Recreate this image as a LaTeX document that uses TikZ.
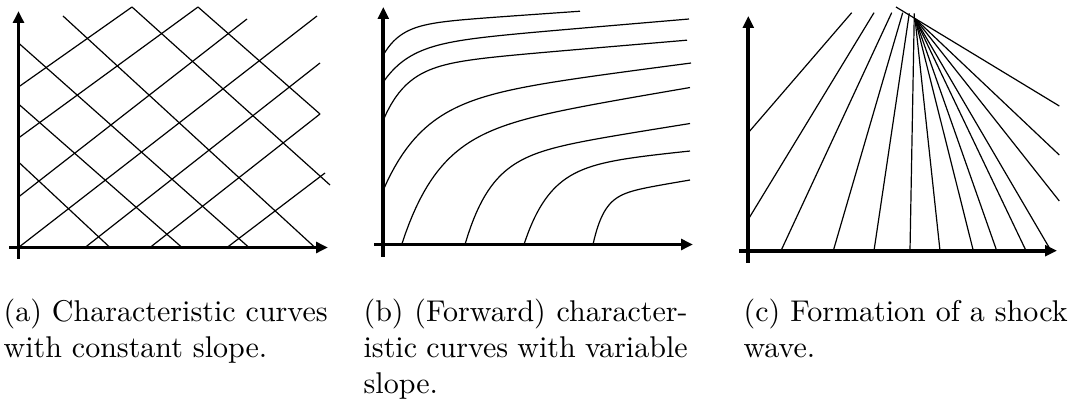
\documentclass[tikz,border=0pt]{standalone}
\usepackage{tikz}
\usetikzlibrary{arrows.meta}

\begin{document}
\begin{tikzpicture}[x=0.3333pt, y=-0.3333pt,
  axis/.style={line width=1.3pt, -{Triangle[length=4pt,width=3.6pt]}},
  charline/.style={line width=0.4pt},
  subcap/.style={anchor=north west, inner sep=0pt, text width=108pt, align=justify}
]
\useasboundingbox (0,0) rectangle (1076,405);

% (a) constant slope
\draw[axis] (18.5,259) -- (18.5,11);
\draw[axis] (9,247.5) -- (328,247.5);
\foreach \xa/\ya/\xb/\yb in {18.5/87/132/7, 18.5/138/198/7, 18.5/197/247/19, 18.5/247.5/317/16,
  85/247.5/320/63, 150/247.5/320/114, 227/247.5/325/173}
  \draw[charline] (\xa,\ya) -- (\xb,\yb);
\foreach \xa/\ya/\xb/\yb in {63/16/315/247.5, 18.5/43/249/247.5, 132/7/330/185,
  198/7/320/114, 18.5/104/182/247.5, 18.5/162/110/247.5}
  \draw[charline] (\xa,\ya) -- (\xb,\yb);

% (b) variable slope
\draw[axis] (383.3,257) -- (383.3,7);
\draw[axis] (374,244.5) -- (693,244.5);
\foreach \sx/\sy/\ka/\ks/\km/\len in {383.3/55/30/18/0.07/196.7, 383.3/82/37/27/0.085/305.7,
  383.3/120/54/24/0.085/303.7, 383.3/190/87/40/0.13/307.7, 401.7/244.5/108/37/0.17/288.3,
  465/244.5/85/26/0.16/225, 524/244.5/77/26/0.1/166, 593/244.5/48/11/0.17/97}
  \draw[charline] plot[domain=0:\len, samples=80, variable=\t]
    ({\sx+\t},{\sy-\ka*(1-exp(-\t/\ks))-\km*\t});

% (c) shock
\coordinate (F) at (915,18.5);
\draw[axis] (748.3,263) -- (748.3,16);
\draw[axis] (739,250.7) -- (1057,250.7);
\foreach \xa/\ya/\xb/\yb in {748.3/132.7/851.7/12.7, 748.3/219.3/874/12.7, 781/250.7/891.7/12.7,
  833.3/250.7/902.7/12.7, 874/250.7/909.3/13.3, 910/250.7/914.3/13.3}
  \draw[charline] (\xa,\ya) -- (\xb,\yb);
\foreach \xa in {940,973.3,996.7,1026,1051}
  \draw[charline] (\xa,250.7) -- (F);
\draw[charline] (1059.3,106) -- (896,7);
\foreach \ya in {155,201}
  \draw[charline] (1059.3,\ya) -- (F);

\node[subcap] (capa) at (3,298) {(a) Characteristic curves with constant slope.};
\node[subcap] (capb) at (363,298) {(b) (Forward) character\-istic curves with variable slope.};
\node[subcap] (capc) at (743,298) {(c) Formation of a shock wave.};
\end{tikzpicture}
\end{document}
